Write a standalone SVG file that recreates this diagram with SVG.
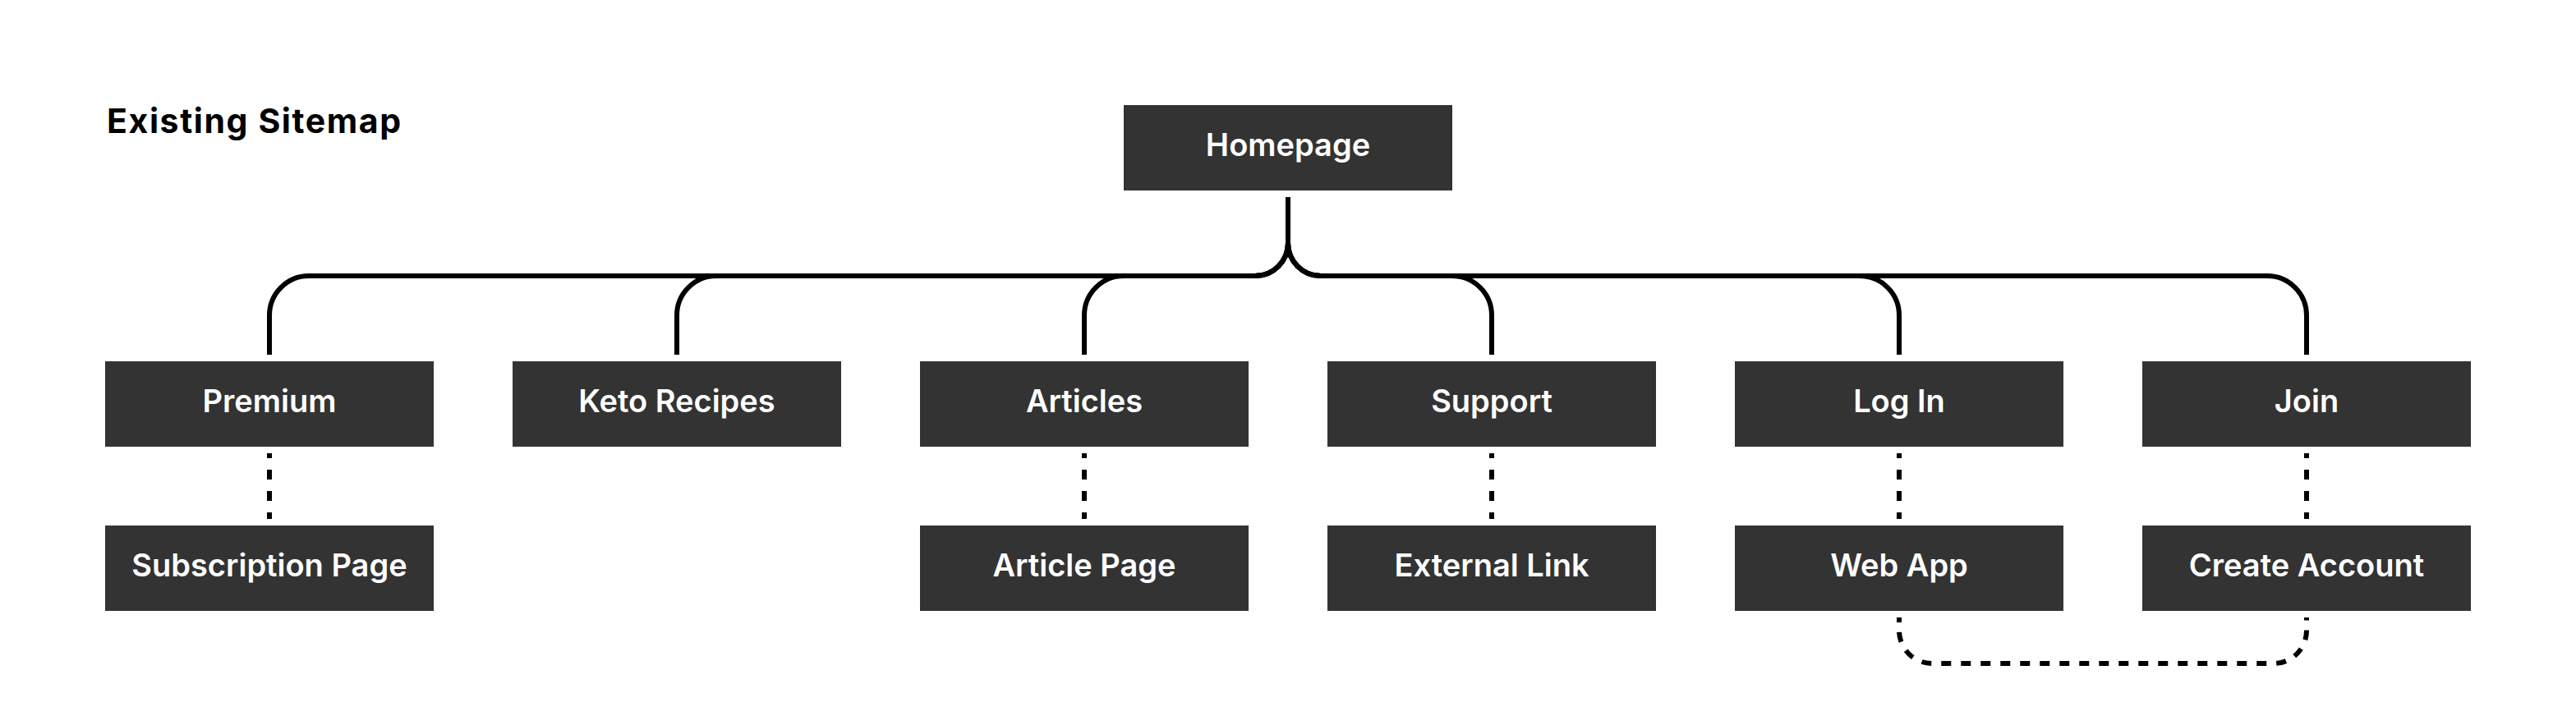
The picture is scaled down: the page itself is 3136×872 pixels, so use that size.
<svg xmlns="http://www.w3.org/2000/svg" width="3136" height="872" viewBox="0 0 3136 872">
  <style>
    .box { fill: #333333; }
    .lbl { fill: #ffffff; font-family: Inter, "Liberation Sans", sans-serif; font-weight: 600; font-size: 38px; text-anchor: middle; }
    .title { fill: #000000; font-family: Inter, "Liberation Sans", sans-serif; font-weight: 700; font-size: 41px; letter-spacing: 1.6px; }
    .solid { fill: none; stroke: #000000; stroke-width: 6; }
    .dot { fill: none; stroke: #000000; stroke-width: 6; stroke-dasharray: 12 14; stroke-dashoffset: 6; }
    .dash { fill: none; stroke: #000000; stroke-width: 6; stroke-dasharray: 12 12; stroke-dashoffset: 6; }
  </style>
  <rect width="3136" height="872" fill="#ffffff"/>
  <text class="title" x="130" y="162">Existing Sitemap</text>

  <g id="connectors">
    <path class="solid" d="M1568 240 V296 A40 40 0 0 1 1528 336 H376 A48 48 0 0 0 328 384 V432"/>
    <path class="solid" d="M1568 240 V296 A40 40 0 0 1 1528 336 H872 A48 48 0 0 0 824 384 V432"/>
    <path class="solid" d="M1568 240 V296 A40 40 0 0 1 1528 336 H1368 A48 48 0 0 0 1320 384 V432"/>
    <path class="solid" d="M1568 240 V296 A40 40 0 0 0 1608 336 H1768 A48 48 0 0 1 1816 384 V432"/>
    <path class="solid" d="M1568 240 V296 A40 40 0 0 0 1608 336 H2264 A48 48 0 0 1 2312 384 V432"/>
    <path class="solid" d="M1568 240 V296 A40 40 0 0 0 1608 336 H2760 A48 48 0 0 1 2808 384 V432"/>
    <line class="dot" x1="328" y1="552" x2="328" y2="632"/>
    <line class="dot" x1="1320" y1="552" x2="1320" y2="632"/>
    <line class="dot" x1="1816" y1="552" x2="1816" y2="632"/>
    <line class="dot" x1="2312" y1="552" x2="2312" y2="632"/>
    <line class="dot" x1="2808" y1="552" x2="2808" y2="632"/>
    <path class="dash" d="M2312 752 V768 A40 40 0 0 0 2352 808 H2768 A40 40 0 0 0 2808 768 V752"/>
  </g>

  <g id="homepage"><rect class="box" x="1368" y="128" width="400" height="104"/><text class="lbl" x="1568" y="190">Homepage</text></g>
  <g id="premium"><rect class="box" x="128" y="440" width="400" height="104"/><text class="lbl" x="328" y="502">Premium</text></g>
  <g id="keto-recipes"><rect class="box" x="624" y="440" width="400" height="104"/><text class="lbl" x="824" y="502">Keto Recipes</text></g>
  <g id="articles"><rect class="box" x="1120" y="440" width="400" height="104"/><text class="lbl" x="1320" y="502">Articles</text></g>
  <g id="support"><rect class="box" x="1616" y="440" width="400" height="104"/><text class="lbl" x="1816" y="502">Support</text></g>
  <g id="log-in"><rect class="box" x="2112" y="440" width="400" height="104"/><text class="lbl" x="2312" y="502">Log In</text></g>
  <g id="join"><rect class="box" x="2608" y="440" width="400" height="104"/><text class="lbl" x="2808" y="502">Join</text></g>
  <g id="subscription-page"><rect class="box" x="128" y="640" width="400" height="104"/><text class="lbl" x="328" y="702">Subscription Page</text></g>
  <g id="article-page"><rect class="box" x="1120" y="640" width="400" height="104"/><text class="lbl" x="1320" y="702">Article Page</text></g>
  <g id="external-link"><rect class="box" x="1616" y="640" width="400" height="104"/><text class="lbl" x="1816" y="702">External Link</text></g>
  <g id="web-app"><rect class="box" x="2112" y="640" width="400" height="104"/><text class="lbl" x="2312" y="702">Web App</text></g>
  <g id="create-account"><rect class="box" x="2608" y="640" width="400" height="104"/><text class="lbl" x="2808" y="702">Create Account</text></g>
</svg>
